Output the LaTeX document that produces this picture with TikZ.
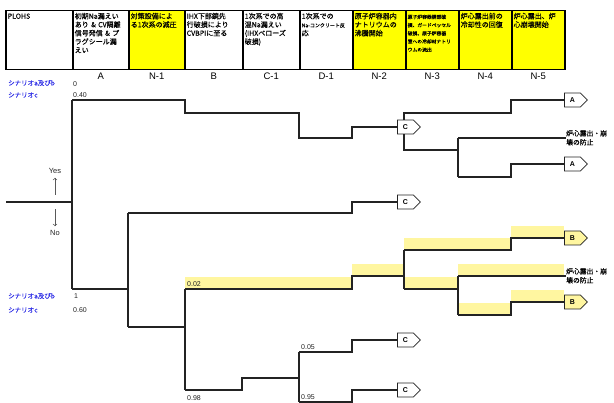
\documentclass[tikz,border=0pt]{standalone}
\usepackage{fontspec}
\setmainfont{Liberation Sans}
\newfontfamily\jpfont{Noto Sans CJK JP}
\newfontfamily\jphead{Noto Sans CJK JP}[FakeBold=0.3]
\usepackage{xcolor}
\usepackage{tikz}
\usetikzlibrary{positioning,shapes.symbols}
\definecolor{HeadYellow}{RGB}{255,255,0}
\definecolor{PathYellow}{RGB}{255,246,160}
\definecolor{ScenBlue}{RGB}{50,50,230}
\definecolor{TreeGray}{RGB}{35,35,35}

\begin{document}
\begin{tikzpicture}[x=1pt,y=-1pt,
  hdr/.style={draw=black,line width=1.5pt,anchor=north west,inner sep=2pt,text width=#1-4pt,
    text height=6pt,text depth=49pt,align=left,font=\jphead\fontsize{7}{8.5}\selectfont},
  col/.style={font=\fontsize{9.5}{10}\selectfont,inner sep=1pt},
  tree/.style={line width=1.3pt,draw=TreeGray},
  band/.style={fill=PathYellow,draw=none},
  sig/.style={draw=TreeGray,line width=0.8pt,fill=white,signal,signal to=east,anchor=west,
    minimum width=23pt,minimum height=14pt,inner sep=1pt,font=\fontsize{7}{8}\selectfont\bfseries},
  prob/.style={font=\fontsize{7}{8}\selectfont,text=TreeGray,anchor=west,inner sep=0pt},
  scen/.style={font=\jphead\fontsize{6.5}{8}\selectfont,text=ScenBlue,anchor=west,inner sep=0pt},
  note/.style={font=\jphead\fontsize{6.8}{9}\selectfont,align=left,anchor=north west,inner sep=0pt},
  yn/.style={->,line width=0.7pt,draw=gray!70!black}
]
\useasboundingbox (0,0) rectangle (614,403);

% heading row
\node[hdr=67pt] (hP) at (5,10) {PLOHS};
\node[hdr=56pt] (hA) at (72,10) {初期Na漏えい\\あり \& CV隔離\\信号発信 \& プ\\ラグシール漏\\えい};
\node[hdr=56pt,fill=HeadYellow] (hN1) at (128,10) {対策設備によ\\る1次系の減圧};
\node[hdr=58pt] (hB) at (184,10) {IHX下部鏡先\\行破損により\\CVBPIに至る};
\node[hdr=57pt] (hC1) at (242,10) {1次系での高\\温Na漏えい\\(IHXベローズ\\破損)};
\node[hdr=53pt] (hD1) at (299,10) {1次系での\\{\fontsize{5}{8.5}\selectfont Na-コンクリート反}\\応};
\node[hdr=53pt,fill=HeadYellow] (hN2) at (352,10) {原子炉容器内\\ナトリウムの\\沸騰開始};
\node[hdr=53pt,fill=HeadYellow,font=\jphead\fontsize{4.8}{8.2}\selectfont] (hN3) at (405,10)
  {原子炉容器胴部破\\損、ガードベッセル\\破損、原子炉容器\\室への冷却材ナトリ\\ウムの流出};
\node[hdr=53pt,fill=HeadYellow] (hN4) at (458,10) {炉心露出前の\\冷却性の回復};
\node[hdr=53pt,fill=HeadYellow] (hN5) at (511,10) {炉心露出、炉\\心崩壊開始};

\node[col,below=1pt of hA] (lA) {A};
\node[col,below=1pt of hN1] (lN1) {N-1};
\node[col,below=1pt of hB] (lB) {B};
\node[col,below=1pt of hC1] (lC1) {C-1};
\node[col,below=1pt of hD1] (lD1) {D-1};
\node[col,below=1pt of hN2] (lN2) {N-2};
\node[col,below=1pt of hN3] (lN3) {N-3};
\node[col,below=1pt of hN4] (lN4) {N-4};
\node[col,below=1pt of hN5] (lN5) {N-5};

% highlighted path
\fill[band] (185,277) rectangle (352,289);
\fill[band] (352,264) rectangle (404,276);
\fill[band] (404,238) rectangle (511,250);
\fill[band] (511,226) rectangle (564,238);
\fill[band] (404,277) rectangle (458,289);
\fill[band] (458,264) rectangle (564,276);
\fill[band] (458,303) rectangle (511,315);
\fill[band] (511,290) rectangle (564,302);

% end states
\node[sig] (c1) at (397,127) {C};
\node[sig] (c2) at (397,202) {C};
\node[sig] (c3) at (397,340) {C};
\node[sig] (c4) at (397,390) {C};
\node[sig] (a1n) at (564,100) {A};
\node[sig] (a2n) at (564,164) {A};
\node[sig,fill=PathYellow] (b1n) at (564,238) {B};
\node[sig,fill=PathYellow] (b2n) at (564,302) {B};
\node[note] (n1) at (566,130) {炉心露出・崩\\壊の防止};
\node[note] (n2) at (566,268) {炉心露出・崩\\壊の防止};

% branch points
\coordinate (root) at (6,202);
\coordinate (ny) at (72,202);
\coordinate (a0) at (72,100);
\coordinate (a1) at (72,289);
\coordinate (c1u) at (404,113);
\coordinate (s1) at (458,138);
\coordinate (s2) at (458,177);
\coordinate (b1) at (128,213);
\coordinate (b2) at (128,327);
\coordinate (d1) at (185,289);
\coordinate (d2) at (185,390);
\coordinate (e1) at (404,250);
\coordinate (e2) at (404,289);
\coordinate (f1) at (458,276);
\coordinate (f2) at (458,315);
\coordinate (g1) at (299,352);
\coordinate (g2) at (299,402);

\draw[tree] (root) -- (ny);
\draw[tree] (a0) -- (a1);
\draw[tree] (a0) -- ++(113,0) -- ++(0,13) -- ++(114,0) -- ++(0,25) -- ++(53,0) |- (c1.west);
\draw[tree] (c1.north -| c1u) -- (c1u) -- ++(107,0) -- ++(0,-13) -- (a1n.west);
\draw[tree] (c1.south -| c1u) |- (458,150);
\draw[tree] (s1) -- (s2);
\draw[tree] (s1) -- (s1 -| n1.west);
\draw[tree] (s2) -- ++(53,0) -- ++(0,-13) -- (a2n.west);
\draw[tree] (a1) -- (a1 -| b1);
\draw[tree] (b1) -- (b2);
\draw[tree] (b1) -- ++(224,0) |- (c2.west);
\draw[tree] (b2) -- (b2 -| d1);
\draw[tree] (d1) -- (d2);
\draw[tree] (d1) -- ++(167,0) -- ++(0,-13) -- ++(52,0);
\draw[tree] (e1) -- (e2);
\draw[tree] (e1) -- ++(107,0) -- ++(0,-12) -- (b1n.west);
\draw[tree] (e2) -- ++(54,0);
\draw[tree] (f1) -- (f2);
\draw[tree] (f1) -- (f1 -| n2.west);
\draw[tree] (f2) -- ++(53,0) -- ++(0,-13) -- (b2n.west);
\draw[tree] (d2) -- ++(57,0) -- ++(0,-12) -- ++(57,0);
\draw[tree] (g1) -- (g2);
\draw[tree] (g1) -- ++(53,0) |- (c3.west);
\draw[tree] (g2) -- ++(53,0) |- (c4.west);

% yes / no
\node[font=\fontsize{7.5}{8}\selectfont,text=TreeGray,inner sep=1pt] (yes) at (55,171) {Yes};
\node[font=\fontsize{7.5}{8}\selectfont,text=TreeGray,inner sep=1pt] (no) at (55,233) {No};
\draw[yn] (yes.south) ++(0,20) -- ++(0,-17);
\draw[yn] (no.north) ++(0,-20) -- ++(0,17);

% scenario probabilities
\node[scen] (sab1) at (8,83) {シナリオa及びb};
\node[scen] (sc1) at (8,95) {シナリオc};
\node[prob] (p0) at (73,84) {0};
\node[prob] (p40) at (73,95) {0.40};
\node[scen] (sab2) at (8,296) {シナリオa及びb};
\node[scen] (sc2) at (8,310) {シナリオc};
\node[prob] (p1) at (74,296) {1};
\node[prob] (p60) at (73,310) {0.60};
\node[prob] (p02) at (187,284) {0.02};
\node[prob] (p98) at (187,398) {0.98};
\node[prob] (p05) at (301,347) {0.05};
\node[prob] (p95) at (301,397) {0.95};
\end{tikzpicture}
\end{document}
